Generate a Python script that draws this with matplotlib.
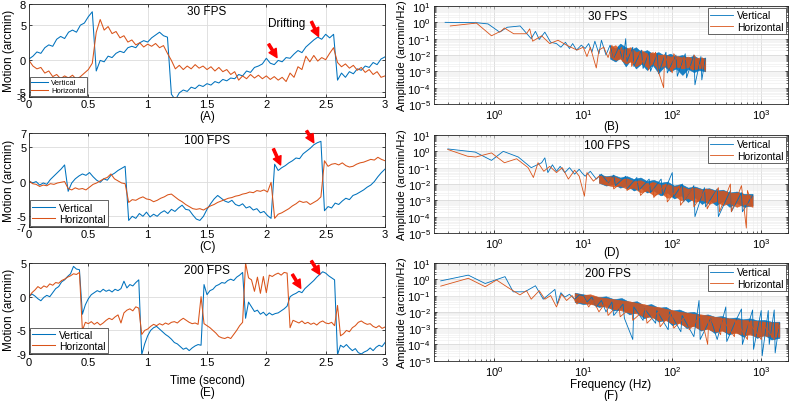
import numpy as np
import matplotlib
matplotlib.use("Agg")
import matplotlib.pyplot as plt
from matplotlib.ticker import LogLocator, NullFormatter

plt.rcParams["font.family"] = ["Liberation Sans", "DejaVu Sans"]
plt.rcParams["mathtext.default"] = "regular"
plt.rcParams["font.size"] = 7.5

BLUE = "#0072BD"
ORANGE = "#D95319"

# ---- time-domain motion traces (arcmin), sampled evenly over 0..3 s ----
vert_30 = [0.2, 0.6, 1.2, 1.0, 1.8, 2.2, 2.0, 3.0, 3.4, 3.1, 4.0, 4.3, 4.0, 5.0, 5.3, 6.2,
           6.9, -1.5, 0.0, -0.2, 0.6, 0.4, 1.0, 1.3, 1.1, 1.8, 2.0, 1.8, 2.5, 2.8, 2.6, 3.2,
           3.6, 4.0, 3.5, 3.3, -4.8, -5.6, -4.6, -4.2, -4.4, -3.8, -4.0, -3.5, -3.7, -3.3,
           -3.5, -3.0, -3.2, -2.7, -2.9, -2.5, -2.6, -2.0, -2.2, -1.5, -1.7, -1.0, -0.8, -0.5,
           0.3, -0.4, -0.6, 0.0, -0.2, 0.4, 0.3, 0.9, 1.4, 1.1, 1.9, 2.4, 2.9, 3.3, 3.0, 3.7,
           3.2, 3.7, -2.8, -1.8, -2.4, -1.6, -1.9, -1.2, -1.4, -0.8, -1.0, -0.3, -0.6, 0.2, 0.5]
horz_30 = [0.0, -0.8, -1.2, -1.0, -1.8, -1.5, -2.3, -2.0, -2.6, -2.2, -2.5, -2.1, -2.7, -2.3,
           -1.8, -1.3, -0.4, 4.0, 5.8, 4.3, 4.8, 3.8, 4.1, 3.2, 3.5, 2.6, 2.9, 2.2, 2.5, 1.9,
           2.3, 2.0, 2.4, 1.8, 2.1, 1.0, 0.0, -1.2, -0.7, -1.3, -0.8, -1.2, -0.6, -1.1, -0.8,
           -1.3, -0.9, -1.5, -1.0, -1.6, -1.3, -2.0, -1.6, -2.8, -2.2, -2.6, -2.0, -2.5, -2.1,
           -2.6, -2.2, -2.7, -2.3, -2.8, -2.4, -3.0, -1.8, -2.4, -0.9, -1.3, 0.6, -0.2, 0.7,
           -0.1, 0.4, 0.1, 1.0, 1.8, -0.3, -0.9, -0.5, -1.1, -0.7, -1.4, -1.0, -1.7, -1.3, -2.0,
           -1.6, -2.4, -2.2]

vert_100 = [0.1, -0.2, 0.0, -0.5, -0.2, -0.4, 0.3, 0.8, 1.3, 1.8, 2.4, -1.4, -0.2, 0.4, 0.8,
            1.1, 0.9, 1.3, 0.7, 0.2, -0.1, 0.4, 0.2, 0.9, 1.2, 1.6, 1.9, 2.2, -5.6, -5.0, -5.3,
            -4.6, -5.0, -4.4, -5.1, -4.7, -5.0, -4.5, -4.2, -4.6, -4.0, -4.3, -3.8, -3.4, -4.0,
            -4.1, -4.8, -5.4, -5.6, -5.0, -4.0, -3.2, -2.5, -2.0, -2.4, -2.8, -3.0, -2.7, -3.3,
            -3.5, -3.2, -3.8, -3.6, -4.1, -3.9, -4.5, -4.3, -4.9, -5.3, 2.5, 1.6, 2.0, 2.3, 2.7,
            3.0, 3.4, 3.3, 4.0, 4.4, 4.8, 5.3, 5.6, 5.8, -4.2, -3.6, -3.8, -3.1, -3.3, -2.8,
            -2.4, -2.6, -2.0, -1.8, -1.5, -1.2, -0.8, -0.5, 0.0, 0.7, 1.3, 1.8]
horz_100 = [0.1, -0.3, -0.4, -0.7, -0.5, -0.6, -0.3, -0.4, -0.2, -0.1, 0.0, -1.0, -1.2, -0.9,
            -1.1, -1.0, -1.2, -0.8, -0.4, -0.2, 0.1, 0.4, 0.6, 1.1, 0.4, 0.1, -0.2, -0.3, -3.0,
            -2.6, -2.7, -2.4, -2.2, -2.5, -2.6, -2.9, -2.7, -2.4, -2.2, -1.9, -1.8, -2.2, -2.6,
            -2.9, -3.3, -3.6, -3.9, -4.0, -3.9, -4.1, -3.8, -3.5, -3.3, -3.0, -2.8, -2.6, -2.4,
            -2.3, -2.1, -2.0, -1.8, -1.7, -1.5, -1.6, -1.3, -1.4, -1.2, -1.5, -0.1, -5.3, -4.7,
            -4.5, -4.2, -3.9, -3.5, -3.2, -2.8, -3.0, -2.9, -3.3, -3.0, -2.7, -2.2, 3.0, 2.2,
            2.5, 2.6, 2.4, 2.7, 2.3, 2.1, 2.2, 2.5, 2.7, 2.8, 3.0, 3.2, 3.1, 3.5, 3.2, 3.0]

vert_200 = [0.0, 0.4, 0.1, -0.3, -0.6, -0.1, 0.2, 0.0, 0.6, 1.2, 1.5, 2.2, 2.5, 3.0, 3.4, 4.5,
            4.1, 4.0, -2.6, -1.2, -0.3, 0.3, 0.6, 0.9, 0.7, 1.1, 0.8, 1.0, 0.7, 1.1, 0.9, 1.2,
            2.3, 1.3, 1.8, 1.6, 2.1, 2.5, -8.6, -7.0, -5.8, -5.0, -4.6, -4.4, -4.8, -5.2, -5.6,
            -5.9, -6.3, -6.8, -7.0, -7.4, -7.8, -7.6, -8.0, -7.6, -7.3, -7.1, -7.2, 1.8, 0.3,
            0.9, 1.1, 1.6, 1.8, 2.1, 2.0, 2.4, 2.6, 2.4, 2.9, 3.2, 3.6, -3.2, -0.8, -1.5, -2.2,
            -2.0, -2.6, -2.3, -2.8, -2.4, -2.7, -2.5, -2.4, -2.1, -1.8, -1.4, 0.0, 0.3, 0.5,
            0.8, 0.6, 1.2, 1.6, 2.0, 2.4, 2.9, 3.3, 3.7, 3.5, 3.1, 2.8, 2.5, -8.6, -7.2, -7.5,
            -7.1, -7.6, -8.0, -7.7, -8.3, -8.5, -8.2, -8.0, -7.6, -8.0, -7.5, -7.2, -7.4, -6.8]
horz_200 = [0.0, 0.6, 1.0, 1.5, 1.2, 1.6, 1.4, 1.9, 1.7, 2.1, 2.0, 2.4, 2.6, 2.9, 3.1, 3.4,
            3.3, 3.6, -5.0, -3.8, -4.0, -3.7, -4.1, -3.8, -4.2, -3.9, -3.5, -3.2, -3.4, -3.0,
            -2.7, -3.9, -2.4, -2.0, -1.8, -2.1, -1.5, -1.7, -5.6, -5.0, -4.8, -4.4, -4.1, -4.3,
            -4.0, -4.2, -3.9, -4.1, -3.8, -3.7, -3.9, -3.5, -3.2, -3.5, -3.8, -4.0, -3.9, -4.1,
            0.0, -4.0, -4.3, -4.6, -5.0, -5.4, -5.9, -6.1, -6.2, -6.0, -6.2, -5.6, -5.0, -4.3,
            -3.8, 5.0, 2.8, 2.5, 0.8, 2.9, 0.5, 3.0, 0.6, 3.2, 3.0, 3.3, 3.5, 3.2, 3.6, 3.5,
            -4.6, -3.5, -3.7, -3.9, -3.6, -4.0, -3.8, -4.1, -3.9, -4.2, -3.8, -3.6, -3.9, -4.0,
            -3.8, -4.3, -1.3, -5.8, -5.5, -5.0, -5.2, -4.6, -4.3, -3.8, -3.6, -3.9, -4.1, -4.0,
            -4.4, -4.6, -4.3, -4.7, -4.5]

# ---- spectra: (frequency Hz, amplitude arcmin/Hz) ----
spec_30_v = [(0.28, 1.0), (0.63, 0.95), (0.85, 0.8), (1.15, 0.25), (1.4, 0.5), (1.95, 0.6),
             (2.6, 0.1), (2.9, 0.28), (3.2, 0.09), (3.7, 0.25), (4.3, 0.06), (5.0, 0.05),
             (5.6, 0.03), (6.3, 0.06), (7.0, 0.025), (7.6, 0.05), (8.4, 0.02), (9.5, 0.04),
             (10.5, 0.025), (11.5, 0.05), (12.5, 0.015), (13.5, 0.07), (15, 0.012), (16, 0.08),
             (18, 0.01), (20, 0.04), (22, 0.006), (25, 0.03), (28, 0.005), (30, 0.1),
             (31, 0.004), (36, 0.03), (37, 0.002), (45, 0.02), (47, 0.0015), (55, 0.015),
             (57, 0.001), (68, 0.012), (70, 0.0007), (85, 0.015), (88, 0.0008), (110, 0.01),
             (114, 0.0005), (140, 0.012), (145, 0.0004), (175, 0.01), (180, 0.00015),
             (210, 0.008), (215, 0.0003), (235, 0.006)]
spec_30_h = [(0.32, 0.6), (0.63, 0.9), (0.93, 0.15), (1.2, 0.3), (1.3, 0.45), (1.65, 0.2),
             (2.3, 0.2), (2.5, 0.4), (2.7, 0.07), (3.4, 0.15), (4.2, 0.05), (5.2, 0.08),
             (6.5, 0.04), (8.5, 0.02), (10, 0.03), (11, 0.008), (12, 0.03), (14, 0.0016),
             (15, 0.02), (17, 0.03), (19, 0.007), (21, 0.04), (22, 0.005), (27, 0.03),
             (28, 0.004), (34, 0.02), (35, 0.002), (42, 0.015), (44, 0.0025), (52, 0.012),
             (54, 0.0012), (65, 0.015), (67, 0.002), (80, 0.0001), (82, 0.01), (100, 0.0008),
             (104, 0.012), (130, 0.0015), (135, 0.008), (170, 0.0012), (176, 0.01),
             (210, 0.0015), (216, 0.007), (235, 0.001)]
spec_100_v = [(0.30, 1.4), (0.61, 0.9), (0.93, 0.28), (1.26, 1.0), (1.86, 0.45), (2.6, 0.1),
              (3.4, 0.2), (3.7, 0.4), (4.0, 0.05), (4.5, 0.15), (5.0, 0.06), (5.5, 0.12),
              (6.2, 0.05), (7.0, 0.1), (8.0, 0.04), (9.0, 0.08), (9.6, 0.05), (10.5, 0.03),
              (12, 0.06), (14, 0.02), (16, 0.04), (19, 0.012), (22, 0.035), (23, 0.008),
              (30, 0.03), (31, 0.005), (40, 0.025), (42, 0.004), (55, 0.02), (57, 0.003),
              (75, 0.02), (78, 0.002), (100, 0.05), (103, 0.0015), (130, 0.01), (134, 0.0008),
              (175, 0.008), (180, 0.0001), (230, 0.006), (237, 0.0004), (320, 0.005),
              (330, 0.0001), (450, 0.004), (462, 0.0002), (600, 0.003), (615, 0.0002),
              (800, 0.002)]
spec_100_h = [(0.30, 1.3), (0.50, 0.5), (0.62, 0.45), (0.93, 0.8), (1.3, 0.2), (1.78, 0.35),
              (2.4, 0.1), (2.75, 0.025), (3.1, 0.2), (3.6, 0.06), (4.2, 0.12), (5.0, 0.05),
              (5.8, 0.1), (6.8, 0.02), (8.0, 0.07), (9.0, 0.03), (10.3, 0.0018), (11, 0.05),
              (13, 0.015), (15, 0.03), (18, 0.01), (21, 0.025), (22, 0.005), (30, 0.02),
              (31, 0.004), (42, 0.015), (44, 0.002), (60, 0.012), (62, 0.0015), (85, 0.01),
              (88, 0.0008), (120, 0.008), (124, 0.0005), (170, 0.006), (175, 0.0004),
              (240, 0.005), (247, 0.0003), (330, 0.006), (340, 0.0002), (450, 0.01),
              (462, 0.0002), (600, 0.008), (680, 0.00002), (700, 0.004), (800, 0.0005)]
spec_200_v = [(0.25, 0.8), (0.51, 1.8), (0.79, 0.55), (1.32, 1.45), (1.63, 0.17), (2.2, 0.17),
              (2.9, 0.4), (3.55, 0.06), (4.8, 0.24), (5.1, 0.03), (5.6, 0.15), (6.2, 0.08),
              (7.0, 0.12), (8.0, 0.06), (9.0, 0.11), (10, 0.1), (11, 0.04), (12.5, 0.08),
              (14, 0.02), (16, 0.05), (18, 0.01), (21, 0.04), (22, 0.006), (28, 0.03),
              (29, 0.004), (36, 0.0002), (37, 0.02), (47, 0.003), (49, 0.015), (65, 0.002),
              (67, 0.012), (90, 0.0008), (93, 0.01), (125, 0.0006), (129, 0.006),
              (175, 0.0003), (200, 0.05), (206, 0.0002), (270, 0.004), (320, 0.0002),
              (400, 0.02), (410, 0.00015), (520, 0.003), (600, 0.015), (615, 0.0001),
              (800, 0.013), (820, 0.00005), (1000, 0.012), (1025, 0.00002), (1200, 0.012),
              (1230, 0.0001), (1400, 0.013), (1435, 0.00003), (1600, 0.002)]
spec_200_h = [(0.25, 0.38), (0.51, 1.15), (0.79, 0.35), (1.06, 0.9), (1.44, 0.3), (1.94, 0.11),
              (2.3, 0.2), (2.6, 0.06), (3.2, 0.2), (3.7, 0.06), (4.3, 0.1), (5.0, 0.02),
              (5.7, 0.12), (6.5, 0.05), (7.5, 0.1), (8.5, 0.03), (10, 0.08), (11.5, 0.02),
              (13, 0.05), (15, 0.01), (18, 0.04), (19, 0.006), (25, 0.03), (26, 0.005),
              (35, 0.02), (36, 0.003), (50, 0.015), (52, 0.002), (70, 0.01), (73, 0.0012),
              (100, 0.01), (104, 0.001), (150, 0.007), (155, 0.0008), (210, 0.006),
              (250, 0.0001), (258, 0.005), (350, 0.0004), (360, 0.004), (500, 0.0003),
              (515, 0.003), (700, 0.0002), (720, 0.0025), (1000, 0.0002), (1030, 0.002),
              (1400, 0.0002), (1600, 0.0015)]

# dense core of each spectrum (where the trace fills a band): freq, low, high
core_30_f = [20, 23, 26, 30, 34, 39, 45, 52, 60, 70, 82, 95, 110, 130, 150, 175, 200, 235]
core_30_v = ([0.006, 0.004, 0.007, 0.002, 0.005, 0.0015, 0.003, 0.0012, 0.0025, 0.0008, 0.002,
              0.001, 0.0015, 0.0006, 0.0014, 0.0009, 0.0012, 0.001],
             [0.04, 0.025, 0.05, 0.03, 0.02, 0.03, 0.015, 0.02, 0.012, 0.015, 0.009, 0.012,
              0.008, 0.01, 0.007, 0.009, 0.006, 0.007])
core_30_h = ([0.008, 0.005, 0.006, 0.003, 0.004, 0.002, 0.0035, 0.0018, 0.003, 0.0015, 0.0025,
              0.0012, 0.002, 0.0015, 0.0018, 0.0013, 0.0016, 0.0014],
             [0.03, 0.04, 0.02, 0.025, 0.03, 0.015, 0.02, 0.012, 0.015, 0.01, 0.011, 0.008,
              0.009, 0.007, 0.008, 0.006, 0.007, 0.006])
core_100_f = [15, 18, 22, 26, 31, 37, 44, 52, 62, 74, 88, 105, 125, 150, 180, 215, 260, 310,
              370, 440, 530, 640, 800]
core_100_v = ([0.012, 0.008, 0.01, 0.006, 0.008, 0.004, 0.006, 0.003, 0.004, 0.002, 0.003,
               0.0013, 0.002, 0.0008, 0.0015, 0.0006, 0.0011, 0.0005, 0.0009, 0.0004, 0.0007,
               0.0004, 0.0005],
              [0.04, 0.03, 0.035, 0.025, 0.03, 0.02, 0.025, 0.015, 0.018, 0.012, 0.014, 0.008,
               0.01, 0.006, 0.007, 0.005, 0.0055, 0.004, 0.0045, 0.003, 0.0035, 0.0025, 0.0025])
core_100_h = ([0.012, 0.009, 0.007, 0.008, 0.005, 0.006, 0.003, 0.004, 0.002, 0.003, 0.0014,
               0.002, 0.001, 0.0014, 0.0008, 0.0011, 0.0006, 0.0009, 0.0005, 0.0007, 0.0004,
               0.0006, 0.0004],
              [0.035, 0.028, 0.03, 0.02, 0.022, 0.015, 0.017, 0.011, 0.013, 0.009, 0.01, 0.007,
               0.0075, 0.005, 0.006, 0.0045, 0.005, 0.0035, 0.004, 0.0028, 0.003, 0.0022, 0.002])
core_200_f = [8, 10, 12, 15, 18, 22, 27, 33, 40, 48, 58, 70, 85, 100, 120, 145, 175, 210, 250,
              300, 360, 430, 520, 620, 750, 900, 1080, 1300, 1600]
core_200_v = ([0.04, 0.03, 0.035, 0.02, 0.025, 0.012, 0.015, 0.007, 0.01, 0.004, 0.006, 0.0025,
               0.0035, 0.0015, 0.0025, 0.001, 0.0015, 0.0007, 0.001, 0.0005, 0.0008, 0.0004,
               0.0006, 0.0003, 0.0005, 0.00025, 0.0004, 0.0002, 0.00025],
              [0.15, 0.12, 0.1, 0.08, 0.09, 0.06, 0.07, 0.04, 0.045, 0.025, 0.03, 0.018, 0.02,
               0.012, 0.014, 0.009, 0.01, 0.006, 0.007, 0.005, 0.0055, 0.004, 0.0045, 0.0035,
               0.004, 0.003, 0.0032, 0.0025, 0.0025])
core_200_h = ([0.045, 0.035, 0.03, 0.025, 0.02, 0.015, 0.012, 0.009, 0.008, 0.005, 0.005, 0.003,
               0.003, 0.002, 0.002, 0.0012, 0.0013, 0.0008, 0.0009, 0.0006, 0.0007, 0.0005,
               0.0005, 0.0004, 0.0004, 0.0003, 0.00035, 0.0003, 0.0003],
              [0.14, 0.11, 0.12, 0.08, 0.07, 0.06, 0.05, 0.045, 0.035, 0.03, 0.022, 0.02, 0.015,
               0.013, 0.01, 0.009, 0.0075, 0.007, 0.006, 0.005, 0.0045, 0.004, 0.0035, 0.0032,
               0.003, 0.0028, 0.0025, 0.0023, 0.0022])

titles = ["30 FPS", "100 FPS", "200 FPS"]
left_tags = [["(A)"], ["(C)"], ["Time (second)", "(E)"]]
right_tags = [["(B)"], ["(D)"], ["Frequency (Hz)", "(F)"]]
# pixel rows of the label lines under each panel
left_tag_y = [[116.7], [246.7], [380.7, 392.7]]
right_tag_y = [[126.7], [252.7], [385.5, 396.0]]

# arrows: (tail t, tail y, tip t, tip y)
arrows = [
    [(2.02, 2.3, 2.09, 0.4), (2.38, 5.5, 2.44, 3.4)],
    [(2.06, 4.7, 2.12, 2.4), (2.34, 7.3, 2.40, 5.6)],
    [(2.22, 3.3, 2.29, 1.25), (2.38, 5.3, 2.45, 3.3)],
]

W, H = 791, 402
fig = plt.figure(figsize=(W / 100, H / 100), dpi=100)


def box(l, t, r, b):
    return [l / W, 1 - b / H, (r - l) / W, (b - t) / H]


left_boxes = [box(29, 5, 385, 97.7), box(29, 134, 385, 227.7), box(29, 264, 385, 355)]
right_boxes = [box(434, 7, 788, 105), box(434, 136, 788, 234), box(434, 264, 788, 361.7)]

ylims = [(-5.15, 8), (-6.5, 7), (-8.5, 5)]
yticks = [([-5.15, -4.55, 0, 5, 8], ["-6", "-5", "0", "5", "8"]),
          ([-6.5, -5, 0, 5, 7], ["-7", "-5", "0", "5", "7"]),
          ([-8.5, -5, 0, 5], ["-9", "-5", "0", "5"])]
traces = [(vert_30, horz_30), (vert_100, horz_100), (vert_200, horz_200)]
specs = [(spec_30_v, spec_30_h), (spec_100_v, spec_100_h), (spec_200_v, spec_200_h)]
cores = [(core_30_f, core_30_v, core_30_h), (core_100_f, core_100_v, core_100_h),
         (core_200_f, core_200_v, core_200_h)]
leg_fs = [5.5, 7.5, 7.5]


def style(ax, pad):
    for s in ax.spines.values():
        s.set_linewidth(0.6)
        s.set_color("#262626")
    ax.tick_params(direction="in", length=2.5, width=0.5, pad=pad, labelsize=8, top=True, right=True)
    ax.tick_params(which="minor", direction="in", length=1.5, width=0.4, top=True, right=True)


def tags(lines, ys, cx):
    for s, y in zip(lines, ys):
        fig.text(cx / W, 1 - y / H, s, ha="center", va="center", fontsize=8.5)


for i in range(3):
    ax = fig.add_axes(left_boxes[i])
    v, h = traces[i]
    ax.plot(np.linspace(0, 3, len(v)), v, color=BLUE, lw=0.75, label="Vertical")
    ax.plot(np.linspace(0, 3, len(h)), h, color=ORANGE, lw=0.75, label="Horizontal")
    ax.set_xlim(0, 3)
    ax.set_ylim(*ylims[i])
    ax.set_xticks([0, 0.5, 1, 1.5, 2, 2.5, 3])
    ax.set_xticklabels(["0", "0.5", "1", "1.5", "2", "2.5", "3"])
    ax.set_yticks(yticks[i][0])
    ax.set_yticklabels(yticks[i][1])
    ax.grid(True, color="#dcdcdc", lw=0.6)
    ax.set_axisbelow(True)
    style(ax, 2)
    ax.set_ylabel("Motion (arcmin)", fontsize=8.5, labelpad=1)
    tags(left_tags[i], left_tag_y[i], 207)
    ax.text(0.5, 0.92, titles[i], transform=ax.transAxes, ha="center", va="center", fontsize=8.5)
    ax.legend(loc="lower left", fontsize=leg_fs[i], handlelength=2.2, borderpad=0.2,
              labelspacing=0.1, handletextpad=0.4, borderaxespad=0.1, fancybox=False,
              framealpha=1, edgecolor="#262626").get_frame().set_linewidth(0.5)
    for (x0, y0, x1, y1) in arrows[i]:
        ax.annotate("", xy=(x1, y1), xytext=(x0, y0), annotation_clip=False,
                    arrowprops=dict(facecolor="red", edgecolor="red", width=1.6,
                                    headwidth=6, headlength=6, shrink=0))
    if i == 0:
        ax.text(2.01, 5.3, "Drifting", fontsize=8.5, va="center")

for i in range(3):
    ax = fig.add_axes(right_boxes[i])
    sv, sh = specs[i]
    cf, cv, ch = cores[i]
    ax.fill_between(cf, cv[0], cv[1], color=BLUE, alpha=0.9, lw=0.4, edgecolor=BLUE)
    ax.plot([p[0] for p in sv], [p[1] for p in sv], color=BLUE, lw=0.6, label="Vertical")
    ax.fill_between(cf, ch[0], ch[1], color=ORANGE, alpha=0.85, lw=0.4, edgecolor=ORANGE)
    ax.plot([p[0] for p in sh], [p[1] for p in sh], color=ORANGE, lw=0.6, label="Horizontal")
    ax.set_xscale("log")
    ax.set_yscale("log")
    ax.set_xlim(0.21, 2000)
    ax.set_ylim(1e-5, 10)
    ax.xaxis.set_major_locator(LogLocator(base=10, numticks=10))
    ax.yaxis.set_major_locator(LogLocator(base=10, numticks=10))
    ax.xaxis.set_minor_locator(LogLocator(base=10, subs=np.arange(2, 10), numticks=20))
    ax.yaxis.set_minor_locator(LogLocator(base=10, subs=np.arange(2, 10), numticks=20))
    ax.xaxis.set_minor_formatter(NullFormatter())
    ax.yaxis.set_minor_formatter(NullFormatter())
    ax.grid(True, which="major", color="#d8d8d8", lw=0.6)
    ax.grid(True, which="minor", color="#ececec", lw=0.4)
    ax.set_axisbelow(True)
    style(ax, 2.5)
    ax.set_ylabel("Amplitude (arcmin/Hz)", fontsize=8, labelpad=0.5)
    tags(right_tags[i], right_tag_y[i], 611)
    ax.text(0.49, 0.9, titles[i], transform=ax.transAxes, ha="center", va="center", fontsize=8.5)
    leg = ax.legend(loc="upper right", fontsize=7.5, handlelength=2.2, borderpad=0.25,
                    labelspacing=0.15, handletextpad=0.4, borderaxespad=0.15, fancybox=False,
                    framealpha=1, edgecolor="#262626")
    leg.get_frame().set_linewidth(0.5)

fig.savefig("out.png", dpi=100)
